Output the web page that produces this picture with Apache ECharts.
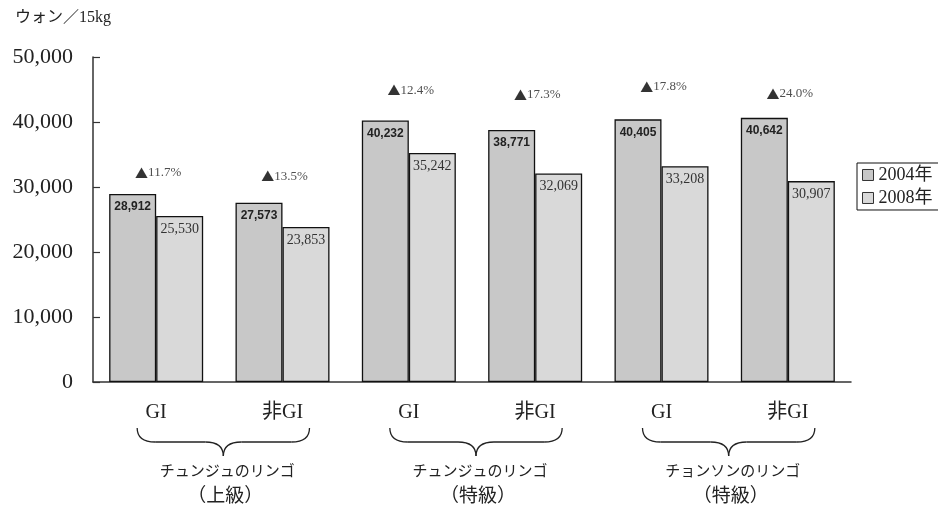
<!DOCTYPE html>
<html><head><meta charset="utf-8">
<script src="https://cdn.jsdelivr.net/npm/echarts@6/dist/echarts.min.js"></script>
<style>html,body{margin:0;padding:0;background:#fff}#c{width:938px;height:512px}</style>
</head><body><div id="c"></div><script>
// Apple wholesale prices (won per 15kg), GI vs non-GI, 2004 vs 2008
const categories = ['GI', '非GI', 'GI', '非GI', 'GI', '非GI'];
const price2004 = [28912, 27573, 40232, 38771, 40405, 40642];
const price2008 = [25530, 23853, 35242, 32069, 33208, 30907];
const dropPct = ['11.7', '13.5', '12.4', '17.3', '17.8', '24.0'];
const regionNames = ['チュンジュのリンゴ', 'チュンジュのリンゴ', 'チョンソンのリンゴ'];
const gradeNames = ['（上級）', '（特級）', '（特級）'];
const seriesNames = ['2004年', '2008年'];
const unitLabel = 'ウォン／15kg';

const SERIF = '"Liberation Serif", "Noto Sans CJK JP", serif';
const CJK = '"Noto Sans CJK JP", sans-serif';
const INK = '#222';

// vertical lift (px) of each change label above its 2004 bar
const pctLift = [21, 26.5, 30, 35, 32.5, 24];

const chart = echarts.init(document.getElementById('c'), null, { renderer: 'canvas' });

chart.setOption({
  animation: false,
  backgroundColor: '#fff',
  textStyle: { fontFamily: SERIF, color: INK },
  grid: { left: 93, right: 87, top: 57, bottom: 130, containLabel: false },
  legend: {
    data: seriesNames,
    orient: 'vertical',
    left: 857, top: 163,
    padding: [3, 8, 3, 5],
    itemWidth: 11, itemHeight: 11, itemGap: 5,
    borderColor: '#111', borderWidth: 1,
    icon: 'rect',
    itemStyle: { borderColor: '#333', borderWidth: 1 },
    textStyle: { fontFamily: SERIF, fontSize: 18, color: INK }
  },
  xAxis: {
    type: 'category',
    data: categories,
    axisLine: { lineStyle: { color: '#333', width: 1.5 } },
    axisTick: { inside: true, length: 6, lineStyle: { color: '#333', width: 1.2 } },
    axisLabel: { fontFamily: SERIF, fontSize: 20, color: INK, margin: 21 }
  },
  yAxis: {
    type: 'value',
    min: 0, max: 50000, interval: 10000,
    splitLine: { show: false },
    axisLine: { show: true, lineStyle: { color: '#333', width: 1.5 } },
    axisTick: { show: true, inside: true, length: 7, lineStyle: { color: '#333', width: 1.2 } },
    axisLabel: {
      fontFamily: SERIF, fontSize: 22, color: INK, margin: 20,
      formatter: v => v.toLocaleString('en-US')
    }
  },
  series: [
    {
      name: seriesNames[0], type: 'bar', data: price2004,
      barWidth: 47, barGap: '0%',
      itemStyle: { color: '#c8c8c8', borderColor: '#111', borderWidth: 1.3 },
      label: {
        show: true, position: 'insideTop', distance: 7,
        fontFamily: '"Liberation Sans", Arial, sans-serif', fontWeight: 'bold', fontSize: 12, color: INK,
        formatter: p => p.value.toLocaleString('en-US')
      }
    },
    {
      name: seriesNames[1], type: 'bar', data: price2008,
      barWidth: 47, barGap: '0%',
      itemStyle: { color: '#d9d9d9', borderColor: '#111', borderWidth: 1.3 },
      label: {
        show: true, position: 'insideTop', distance: 6,
        fontFamily: SERIF, fontSize: 14, color: '#333',
        formatter: p => p.value.toLocaleString('en-US')
      }
    },
    {
      // change labels anchored at the top of each 2004 bar, centred on the category
      name: 'change', type: 'scatter', symbolSize: 0, silent: true,
      data: price2004.map((v, i) => ({
        value: v,
        label: { offset: [2, -pctLift[i]] }
      })),
      label: {
        show: true, position: 'inside',
        fontFamily: SERIF, fontSize: 13, color: INK,
        formatter: p => '{t|▲}' + dropPct[p.dataIndex] + '%',
        rich: { t: { fontFamily: CJK, fontSize: 13, color: '#000' } }
      }
    }
  ]
});

// Curly braces and region captions below each GI / 非GI pair
function drawGroups() {
  const baseY = chart.convertToPixel({ yAxisIndex: 0 }, 0);
  const els = [];
  const stroke = { stroke: INK, lineWidth: 1.3, fill: 'none' };
  const curve = (ax, ay, cx, cy, bx, by) => ({
    type: 'bezierCurve', silent: true,
    shape: { x1: ax, y1: ay, x2: bx, y2: by, cpx1: cx, cpy1: cy },
    style: stroke
  });
  const line = (ax, ay, bx, by) => ({
    type: 'line', silent: true,
    shape: { x1: ax, y1: ay, x2: bx, y2: by },
    style: stroke
  });
  regionNames.forEach((name, g) => {
    const c0 = chart.convertToPixel({ xAxisIndex: 0 }, g * 2);
    const c1 = chart.convertToPixel({ xAxisIndex: 0 }, g * 2 + 1);
    const x0 = c0 - 19, x1 = c1 + 27, mid = (x0 + x1) / 2;
    const yTop = baseY + 46, yBar = baseY + 60, yTip = baseY + 74;
    const r = 18;
    els.push(curve(x0, yTop, x0, yBar, x0 + r, yBar));
    els.push(line(x0 + r, yBar, mid - r, yBar));
    els.push(curve(mid - r, yBar, mid, yBar, mid, yTip));
    els.push(curve(mid, yTip, mid, yBar, mid + r, yBar));
    els.push(line(mid + r, yBar, x1 - r, yBar));
    els.push(curve(x1 - r, yBar, x1, yBar, x1, yTop));
    els.push({
      type: 'text', silent: true,
      x: mid + 4, y: baseY + 90,
      style: { text: name, font: '15px ' + SERIF, fill: INK, align: 'center', verticalAlign: 'middle' }
    });
    els.push({
      type: 'text', silent: true,
      x: mid + 2, y: baseY + 115,
      style: { text: gradeNames[g], font: '19px ' + SERIF, fill: INK, align: 'center', verticalAlign: 'middle' }
    });
  });
  els.push({
    type: 'text', silent: true, x: 15, y: 18,
    style: { text: unitLabel, font: '16px ' + SERIF, fill: INK, verticalAlign: 'middle' }
  });
  chart.setOption({ graphic: els });
}
drawGroups();
</script></body></html>
